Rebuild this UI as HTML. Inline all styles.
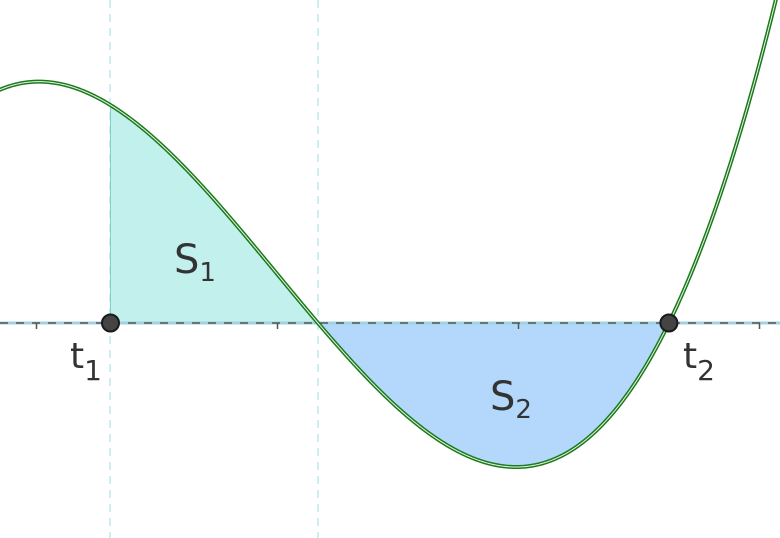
<!DOCTYPE html>
<html><head><meta charset="utf-8"><style>
html,body{margin:0;padding:0;background:#fff}
svg{display:block}
text{font-family:"DejaVu Sans","Liberation Sans",sans-serif;fill:#333}
</style></head><body>
<svg id="chart" width="780" height="538" viewBox="0 0 780 538">
  <line x1="110" y1="0" x2="110" y2="538" stroke="#bfe9f0" stroke-width="1.5" stroke-dasharray="8,6"/>
  <line x1="318" y1="0" x2="318" y2="538" stroke="#bfe9f0" stroke-width="1.5" stroke-dasharray="8,6"/>
  <path id="s1" fill="#c2f1ed" stroke="#7fcfc4" stroke-width="1"/>
  <path id="s2" fill="#b3d8fb" stroke="#8fb2c8" stroke-width="3"/>
  <line x1="0" y1="323" x2="780" y2="323" stroke="#9fd3e0" stroke-width="3"/>
  <line x1="0" y1="323" x2="780" y2="323" stroke="#555" stroke-width="1.5" stroke-dasharray="8,8"/>
  <g id="ticks"></g>
  <path id="curveOuter" fill="none" stroke="#1b7a1b" stroke-width="4"/>
  <path id="curveInner" fill="none" stroke="#e8f5e8" stroke-width="1"/>
  <g id="pts"></g>
  <text x="174" y="273" font-size="40">S<tspan font-size="26" dy="8">1</tspan></text>
  <text x="490" y="410" font-size="40">S<tspan font-size="26" dy="8">2</tspan></text>
  <text x="70" y="368" font-size="36">t<tspan font-size="28" dy="12">1</tspan></text>
  <text x="683" y="368" font-size="36">t<tspan font-size="28" dy="12">2</tspan></text>
</svg>
<script>
const roots = [-1.793, 0.168, 1.624];
const scale = [99.3];
const markedT = [-0.693, 1.624];
const tickValues = [-1, 0, 1, 2];

const X0 = 277.5, UX = 241, Y0 = 323;
const sx = u => X0 + u * UX;
const su = px => (px - X0) / UX;
const f = u => scale[0] * (u - roots[0]) * (u - roots[1]) * (u - roots[2]);
const sy = v => Y0 - v;

function curvePath(u0, u1, n) {
  let d = '';
  for (let i = 0; i <= n; i++) {
    const u = u0 + (u1 - u0) * i / n;
    d += (i ? 'L' : 'M') + sx(u).toFixed(2) + ',' + sy(f(u)).toFixed(2);
  }
  return d;
}
const full = curvePath(su(-5), su(790), 600);
document.getElementById('curveOuter').setAttribute('d', full);
document.getElementById('curveInner').setAttribute('d', full);

function areaPath(a, b) {
  return curvePath(a, b, 200) + 'L' + sx(b) + ',' + Y0 + 'L' + sx(a) + ',' + Y0 + 'Z';
}
document.getElementById('s1').setAttribute('d', areaPath(markedT[0], roots[1]));
document.getElementById('s2').setAttribute('d', areaPath(roots[1], markedT[1]));

const NS = 'http://www.w3.org/2000/svg';
const tg = document.getElementById('ticks');
tickValues.forEach(t => {
  const l = document.createElementNS(NS, 'line');
  
  
  l.setAttribute('x1', sx(t)); l.setAttribute('x2', sx(t));
  l.setAttribute('y1', Y0); l.setAttribute('y2', Y0 + 6);
  l.setAttribute('stroke', '#555'); l.setAttribute('stroke-width', '1.5');
  tg.appendChild(l);
});
const pg = document.getElementById('pts');
markedT.forEach(t => {
  const c = document.createElementNS(NS, 'circle');
  
  
  c.setAttribute('cx', sx(t)); c.setAttribute('cy', Y0); c.setAttribute('r', 8.5);
  c.setAttribute('fill', '#444'); c.setAttribute('stroke', '#1a1a1a'); c.setAttribute('stroke-width', '2');
  pg.appendChild(c);
});
</script>
</body></html>
